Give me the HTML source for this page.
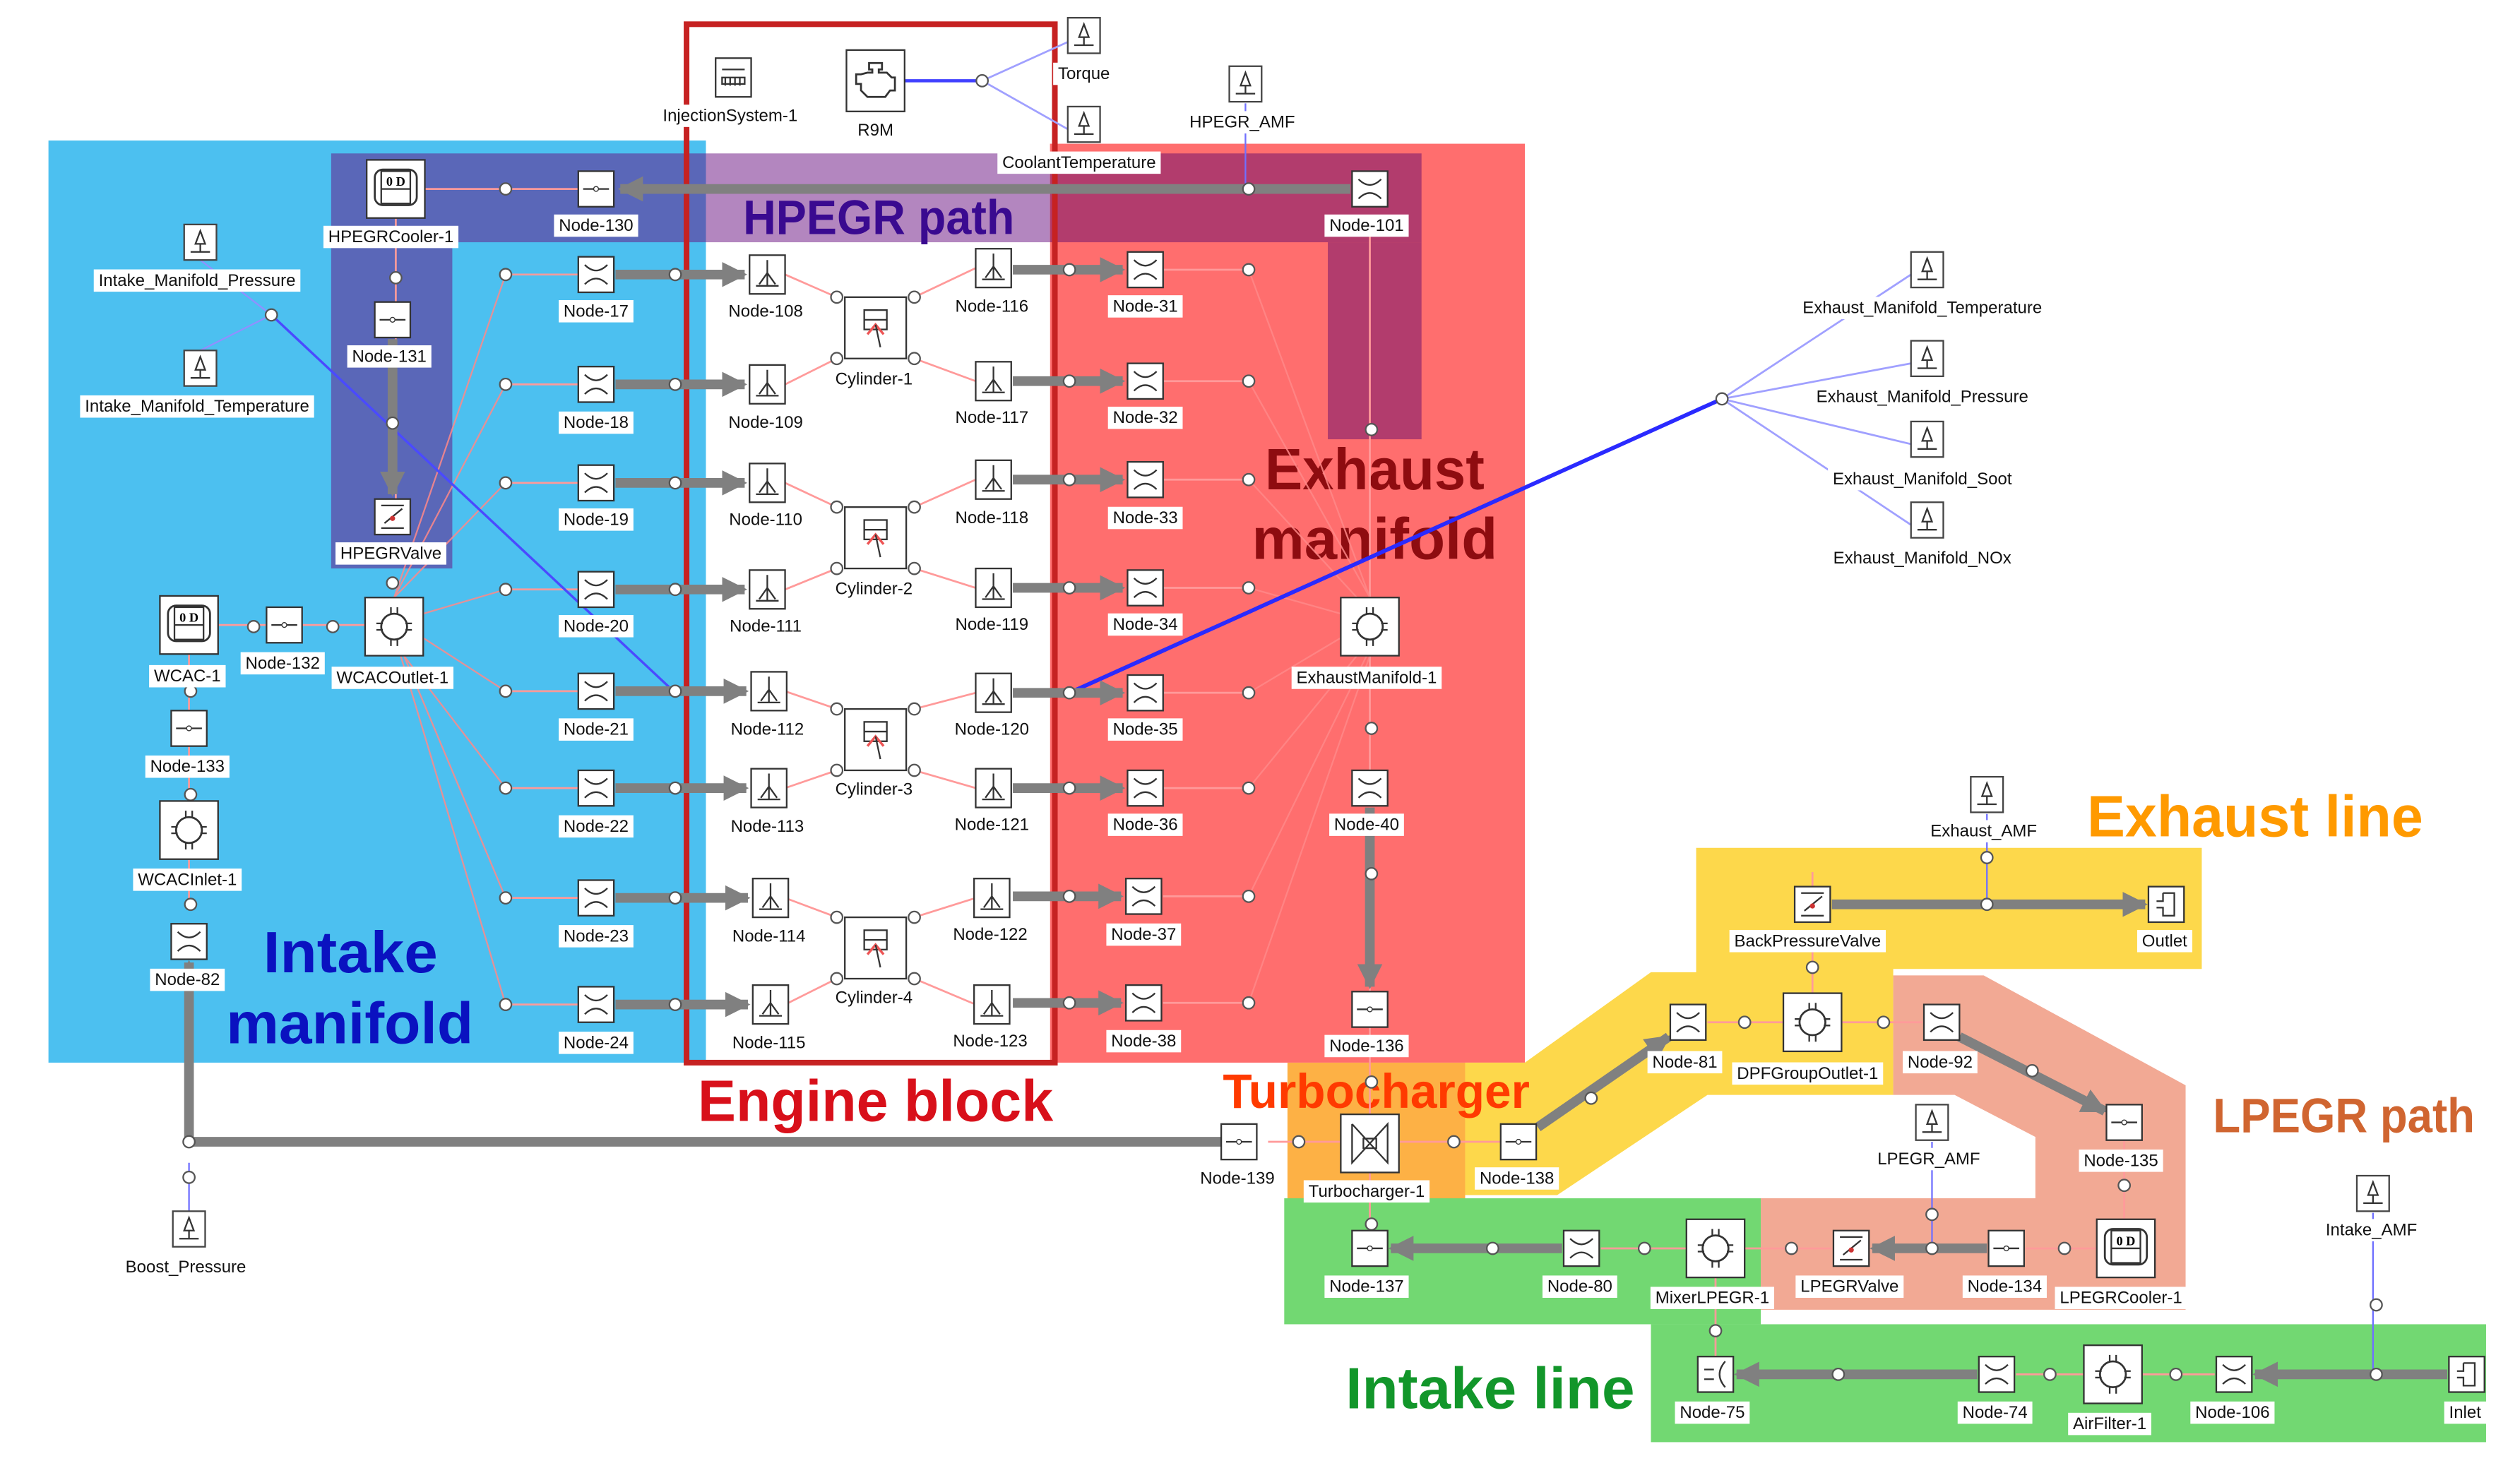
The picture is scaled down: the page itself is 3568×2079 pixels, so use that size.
<!DOCTYPE html>
<html><head><meta charset="utf-8"><style>
html,body{margin:0;padding:0;background:#fff;}
svg{display:block;}
.lb{font-family:"Liberation Sans",sans-serif;font-size:10.5px;fill:#111;text-anchor:middle;}
.big{font-family:"Liberation Sans",sans-serif;font-weight:bold;}
</style></head><body>
<svg xmlns="http://www.w3.org/2000/svg" xmlns:xlink="http://www.w3.org/1999/xlink" width="3568" height="2079" viewBox="0 0 1560 909" preserveAspectRatio="none">
<defs>
<marker id="ar" viewBox="0 0 10 10" markerWidth="2.6" markerHeight="3.2" refX="9" refY="5" orient="auto" markerUnits="strokeWidth"><path d="M0,0 L10,5 L0,10 z" fill="#808080"/></marker>
<g id="nr"><rect x="-11" y="-11" width="22" height="22" fill="#fff" stroke="#333" stroke-width="1"/><path d="M-7,-6 Q0,1 7,-6 M-7,6 Q0,-1 7,6" fill="none" stroke="#333"/></g>
<g id="nj"><rect x="-11" y="-11" width="22" height="22" fill="#fff" stroke="#333" stroke-width="1"/><path d="M-8,0 H8" stroke="#333"/><circle r="1.5" fill="#fff" stroke="#333" stroke-width=".6"/></g>
<g id="np"><rect x="-11" y="-12" width="22" height="24" fill="#fff" stroke="#333" stroke-width="1"/><path d="M0,-9 V7 M-7,7 H7 M-5,6 L0,-1 L5,6" fill="none" stroke="#333"/></g>
<g id="sn"><rect x="-10" y="-11" width="20" height="22" fill="#fff" stroke="#444" stroke-width="1"/><path d="M0,-7 L-3,1 H3 Z M0,1 V6 M-6,6 H6" fill="none" stroke="#333"/></g>
<g id="vl"><rect x="-11" y="-11" width="22" height="22" fill="#fff" stroke="#333" stroke-width="1"/><path d="M-7,-7 H7 M-7,7 H7 M-5,4 L6,-5" stroke="#333"/><circle cx="0" cy="1" r="1.6" fill="#c33"/></g>
<g id="bx"><rect x="-18" y="-18" width="36" height="36" fill="#fff" stroke="#333" stroke-width="1"/></g>
<g id="hub"><use xlink:href="#bx"/><circle r="8" fill="none" stroke="#333" stroke-width="1.2"/><path d="M-11,-2 H-7 M-11,2 H-7 M7,-2 H11 M7,2 H11 M-2,-12 V-8 M2,-12 V-8 M-2,8 V12 M2,8 V12" stroke="#333"/></g>
<g id="cool"><use xlink:href="#bx"/><rect x="-13" y="-12" width="26" height="22" rx="5" fill="none" stroke="#333" stroke-width="1.2"/><rect x="-9" y="-11" width="18" height="20" fill="none" stroke="#333"/><path d="M-9,0 H9" stroke="#333"/><text x="0" y="-2" font-size="8" font-weight="bold" text-anchor="middle" font-family="Liberation Serif,serif">0 D</text></g>
<g id="cyl"><rect x="-19" y="-19" width="38" height="38" fill="#fff" stroke="#333" stroke-width="1"/><rect x="-7" y="-11" width="14" height="12" fill="none" stroke="#333"/><path d="M-7,-5 H7" stroke="#333"/><path d="M-5,4 L0,-2 L5,4" fill="none" stroke="#e55" stroke-width="1.5"/><path d="M0,-2 L3,12" stroke="#333"/></g>
<g id="bnd"><rect x="-11" y="-11" width="22" height="22" fill="#fff" stroke="#333" stroke-width="1"/><path d="M-2,-7 H5 V7 H-2 V2 H-6 M-2,-7 V-2 H-6" fill="none" stroke="#333"/></g>
<g id="o"><circle r="3.6" fill="#fff" stroke="#555" stroke-width="1"/></g>
</defs>

<rect x="30" y="87" width="407" height="571" fill="#4cc0f0"/>
<rect x="650" y="89" width="294" height="569" fill="#ff6e6e"/>
<rect x="437" y="95" width="213" height="563" fill="#fff"/>
<rect x="205" y="95" width="232" height="55" fill="#5a67b8"/>
<rect x="205" y="150" width="75" height="202" fill="#5a67b8"/>
<rect x="437" y="95" width="213" height="55" fill="#b386bf"/>
<rect x="650" y="95" width="230" height="55" fill="#b23c6d"/>
<rect x="822" y="150" width="58" height="122" fill="#b23c6d"/>
<polygon points="1050,525 1363,525 1363,600 1172,600 1172,678 1057,678 964,740 907,740 907,658 944,658 1022,602 1050,602" fill="#fdd84b"/>
<polygon points="1172,604 1228,604 1353,672 1353,811 1090,811 1090,742 1260,742 1260,704 1210,678 1172,678" fill="#f2a994"/>
<rect x="797" y="658" width="110" height="99" fill="#fdb145"/>
<rect x="795" y="742" width="295" height="78" fill="#72d872"/>
<rect x="1022" y="820" width="517" height="73" fill="#72d872"/>
<rect x="425" y="15" width="228" height="643" fill="none" stroke="#c62222" stroke-width="3.5"/>

<text class="big" x="460" y="145" font-size="30" fill="#3a0a90" textLength="168" lengthAdjust="spacingAndGlyphs">HPEGR path</text>
<text class="big" x="783" y="303" font-size="36" fill="#8e0c10" textLength="136" lengthAdjust="spacingAndGlyphs">Exhaust</text>
<text class="big" x="775" y="346" font-size="36" fill="#8e0c10" textLength="152" lengthAdjust="spacingAndGlyphs">manifold</text>
<text class="big" x="163" y="602" font-size="36" fill="#0a12c0" textLength="108" lengthAdjust="spacingAndGlyphs">Intake</text>
<text class="big" x="140" y="646" font-size="36" fill="#0a12c0" textLength="153" lengthAdjust="spacingAndGlyphs">manifold</text>
<text class="big" x="432" y="694" font-size="36" fill="#d8101a" textLength="220" lengthAdjust="spacingAndGlyphs">Engine block</text>
<text class="big" x="757" y="686" font-size="30" fill="#ff3a00" textLength="190" lengthAdjust="spacingAndGlyphs">Turbocharger</text>
<text class="big" x="1292" y="518" font-size="36" fill="#ff9a00" textLength="208" lengthAdjust="spacingAndGlyphs">Exhaust line</text>
<text class="big" x="1370" y="701" font-size="30" fill="#d06530" textLength="162" lengthAdjust="spacingAndGlyphs">LPEGR path</text>
<text class="big" x="833" y="872" font-size="36" fill="#12962a" textLength="179" lengthAdjust="spacingAndGlyphs">Intake line</text>

<g stroke="#ff9a9a" stroke-width="1.2" fill="none">
<path d="M263,117 H358 M245,135 V312 M117,405 V560 M135,387 H226 M848,140 V480 M848,500 V690 M848,726 V762 M785,707 H830 M866,707 H929 M1057,633 H1104 M1140,633 H1190 M1122,578 V615 M1122,540 V552 M991,773 H1044 M1080,773 H1134 M1254,773 H1298 M1315,706 V755 M1062,791 V840 M1248,851 H1290 M1326,851 H1371"/>
<path d="M313,170 H358 M313,238 H358 M313,299 H358 M313,365 H358 M313,428 H358 M313,488 H358 M313,556 H358 M313,622 H358"/>
<path d="M720,167 H773 M720,236 H773 M720,297 H773 M720,364 H773 M720,429 H773 M720,488 H773 M720,555 H773 M720,621 H773"/>
<path d="M486,170 L518,184 M486,238 L518,222 M604,166 L566,184 M604,236 L566,222"/>
<path d="M486,299 L518,314 M486,365 L518,352 M604,297 L566,314 M604,364 L566,352"/>
<path d="M486,428 L518,439 M486,488 L518,477 M604,429 L566,439 M604,488 L566,477"/>
<path d="M486,556 L518,568 M486,622 L518,606 M604,556 L566,568 M604,622 L566,606"/>
</g>
<g stroke="#ff8888" stroke-width="1" fill="none" opacity=".85">
<path d="M244,370 L313,170 M244,370 L313,238 M244,370 L313,299 M262,380 L313,365 M262,395 L313,428 M250,406 L313,488 M250,406 L313,556 M248,406 L313,622"/>
<path d="M848,370 L773,167 M848,370 L773,236 M840,370 L773,297 M830,380 L773,364 M830,395 L773,429 M840,406 L773,488 M846,406 L773,555 M848,406 L773,621"/>
</g>

<g fill="none">
<path d="M124,161 L168,195 L124,217" stroke="#9090ff" stroke-width="1"/>
<path d="M168,195 L418,429" stroke="#4a4aff" stroke-width="1.5"/>
<path d="M662,429 L1066,247" stroke="#2a2aff" stroke-width="2.5"/>
<path d="M1066,247 L1183,170 M1066,247 L1183,225 M1066,247 L1183,275 M1066,247 L1183,325" stroke="#a0a0ff" stroke-width="1.2"/>
<path d="M560,50 H608" stroke="#4040ff" stroke-width="2"/>
<path d="M608,50 L661,26 M608,50 L661,80" stroke="#a0a0ff" stroke-width="1.2"/>
<path d="M771,64 V117 M1230,504 V560 M1196,707 V773 M1469,751 V851 M117,720 V750" stroke="#7070ff" stroke-width="1"/>
</g>

<g stroke="#808080" stroke-width="6" fill="none" marker-end="url(#ar)">
<path d="M836,117 H384"/>
<path d="M243,210 V306"/>
<path d="M381,170 H461"/><path d="M381,238 H461"/><path d="M381,299 H461"/><path d="M381,365 H461"/><path d="M381,428 H462"/><path d="M381,488 H462"/><path d="M381,556 H463"/><path d="M381,622 H463"/>
<path d="M627,167 H695"/><path d="M627,236 H695"/><path d="M627,297 H695"/><path d="M627,364 H695"/><path d="M627,429 H695"/><path d="M627,488 H695"/><path d="M627,555 H694"/><path d="M627,621 H694"/>
<path d="M848,500 V611"/>
<path d="M952,698 L1033,642"/>
<path d="M1213,642 L1303,688"/>
<path d="M1134,560 H1328"/>
<path d="M1230,773 H1159"/>
<path d="M967,773 H861"/>
<path d="M1515,851 H1396"/>
<path d="M1224,851 H1075"/>
<path d="M117,707 V596"/>
</g>
<path d="M117,707 H756" stroke="#808080" stroke-width="6" fill="none"/>

<g>
<use xlink:href="#o" x="313" y="117"/><use xlink:href="#o" x="773" y="117"/><use xlink:href="#o" x="245" y="172"/><use xlink:href="#o" x="243" y="262"/><use xlink:href="#o" x="243" y="361"/>
<use xlink:href="#o" x="168" y="195"/><use xlink:href="#o" x="157" y="388"/><use xlink:href="#o" x="206" y="388"/><use xlink:href="#o" x="118" y="428"/><use xlink:href="#o" x="118" y="492"/><use xlink:href="#o" x="118" y="560"/><use xlink:href="#o" x="117" y="707"/><use xlink:href="#o" x="117" y="729"/>
<use xlink:href="#o" x="313" y="170"/><use xlink:href="#o" x="313" y="238"/><use xlink:href="#o" x="313" y="299"/><use xlink:href="#o" x="313" y="365"/><use xlink:href="#o" x="313" y="428"/><use xlink:href="#o" x="313" y="488"/><use xlink:href="#o" x="313" y="556"/><use xlink:href="#o" x="313" y="622"/>
<use xlink:href="#o" x="418" y="170"/><use xlink:href="#o" x="418" y="238"/><use xlink:href="#o" x="418" y="299"/><use xlink:href="#o" x="418" y="365"/><use xlink:href="#o" x="418" y="428"/><use xlink:href="#o" x="418" y="488"/><use xlink:href="#o" x="418" y="556"/><use xlink:href="#o" x="418" y="622"/>
<use xlink:href="#o" x="662" y="167"/><use xlink:href="#o" x="662" y="236"/><use xlink:href="#o" x="662" y="297"/><use xlink:href="#o" x="662" y="364"/><use xlink:href="#o" x="662" y="429"/><use xlink:href="#o" x="662" y="488"/><use xlink:href="#o" x="662" y="555"/><use xlink:href="#o" x="662" y="621"/>
<use xlink:href="#o" x="773" y="167"/><use xlink:href="#o" x="773" y="236"/><use xlink:href="#o" x="773" y="297"/><use xlink:href="#o" x="773" y="364"/><use xlink:href="#o" x="773" y="429"/><use xlink:href="#o" x="773" y="488"/><use xlink:href="#o" x="773" y="555"/><use xlink:href="#o" x="773" y="621"/>
<use xlink:href="#o" x="518" y="184"/><use xlink:href="#o" x="566" y="184"/><use xlink:href="#o" x="518" y="222"/><use xlink:href="#o" x="566" y="222"/>
<use xlink:href="#o" x="518" y="314"/><use xlink:href="#o" x="566" y="314"/><use xlink:href="#o" x="518" y="352"/><use xlink:href="#o" x="566" y="352"/>
<use xlink:href="#o" x="518" y="439"/><use xlink:href="#o" x="566" y="439"/><use xlink:href="#o" x="518" y="477"/><use xlink:href="#o" x="566" y="477"/>
<use xlink:href="#o" x="518" y="568"/><use xlink:href="#o" x="566" y="568"/><use xlink:href="#o" x="518" y="606"/><use xlink:href="#o" x="566" y="606"/>
<use xlink:href="#o" x="849" y="266"/><use xlink:href="#o" x="849" y="451"/><use xlink:href="#o" x="849" y="541"/><use xlink:href="#o" x="849" y="670"/><use xlink:href="#o" x="849" y="758"/>
<use xlink:href="#o" x="804" y="707"/><use xlink:href="#o" x="900" y="707"/><use xlink:href="#o" x="985" y="680"/><use xlink:href="#o" x="1080" y="633"/><use xlink:href="#o" x="1166" y="633"/><use xlink:href="#o" x="1122" y="599"/><use xlink:href="#o" x="1230" y="560"/><use xlink:href="#o" x="1230" y="531"/>
<use xlink:href="#o" x="1258" y="663"/><use xlink:href="#o" x="1315" y="734"/><use xlink:href="#o" x="1278" y="773"/><use xlink:href="#o" x="1196" y="773"/><use xlink:href="#o" x="1196" y="752"/><use xlink:href="#o" x="1109" y="773"/><use xlink:href="#o" x="1018" y="773"/><use xlink:href="#o" x="924" y="773"/>
<use xlink:href="#o" x="1062" y="824"/><use xlink:href="#o" x="1138" y="851"/><use xlink:href="#o" x="1269" y="851"/><use xlink:href="#o" x="1347" y="851"/><use xlink:href="#o" x="1471" y="851"/><use xlink:href="#o" x="1471" y="808"/>
<use xlink:href="#o" x="608" y="50"/><use xlink:href="#o" x="1066" y="247"/>
</g>

<use xlink:href="#cool" x="245" y="117"/>
<use xlink:href="#nj" x="369" y="117"/>
<use xlink:href="#sn" x="124" y="150"/><use xlink:href="#sn" x="124" y="228"/>
<use xlink:href="#nj" x="243" y="198"/>
<use xlink:href="#vl" x="243" y="320"/>
<use xlink:href="#cool" x="117" y="387"/>
<use xlink:href="#nj" x="176" y="387"/>
<use xlink:href="#hub" x="244" y="388"/>
<use xlink:href="#nj" x="117" y="451"/>
<use xlink:href="#hub" x="117" y="514"/>
<use xlink:href="#nr" x="117" y="583"/>
<use xlink:href="#sn" x="117" y="761"/>
<use xlink:href="#nr" x="369" y="170"/><use xlink:href="#nr" x="369" y="238"/><use xlink:href="#nr" x="369" y="299"/><use xlink:href="#nr" x="369" y="365"/><use xlink:href="#nr" x="369" y="428"/><use xlink:href="#nr" x="369" y="488"/><use xlink:href="#nr" x="369" y="556"/><use xlink:href="#nr" x="369" y="622"/>
<use xlink:href="#np" x="475" y="170"/><use xlink:href="#np" x="475" y="238"/><use xlink:href="#np" x="475" y="299"/><use xlink:href="#np" x="475" y="365"/><use xlink:href="#np" x="476" y="428"/><use xlink:href="#np" x="476" y="488"/><use xlink:href="#np" x="477" y="556"/><use xlink:href="#np" x="477" y="622"/>
<use xlink:href="#np" x="615" y="166"/><use xlink:href="#np" x="615" y="236"/><use xlink:href="#np" x="615" y="297"/><use xlink:href="#np" x="615" y="364"/><use xlink:href="#np" x="615" y="429"/><use xlink:href="#np" x="615" y="488"/><use xlink:href="#np" x="614" y="556"/><use xlink:href="#np" x="614" y="622"/>
<use xlink:href="#cyl" x="542" y="203"/><use xlink:href="#cyl" x="542" y="333"/><use xlink:href="#cyl" x="542" y="458"/><use xlink:href="#cyl" x="542" y="587"/>
<use xlink:href="#nr" x="709" y="167"/><use xlink:href="#nr" x="709" y="236"/><use xlink:href="#nr" x="709" y="297"/><use xlink:href="#nr" x="709" y="364"/><use xlink:href="#nr" x="709" y="429"/><use xlink:href="#nr" x="709" y="488"/><use xlink:href="#nr" x="708" y="555"/><use xlink:href="#nr" x="708" y="621"/>
<use xlink:href="#nr" x="848" y="117"/>
<use xlink:href="#hub" x="848" y="388"/>
<use xlink:href="#nr" x="848" y="488"/>
<use xlink:href="#nj" x="848" y="625"/>
<g transform="translate(848,708)"><use xlink:href="#bx"/><path d="M-11,-12 V12 L11,-12 V12 L-11,-12 M-4,-3 H4 V3 H-4 Z" fill="none" stroke="#333"/></g>
<use xlink:href="#nj" x="767" y="707"/>
<use xlink:href="#nj" x="940" y="707"/>
<use xlink:href="#nj" x="848" y="773"/>
<use xlink:href="#nr" x="979" y="773"/>
<use xlink:href="#hub" x="1062" y="773"/>
<use xlink:href="#vl" x="1146" y="773"/>
<use xlink:href="#nj" x="1242" y="773"/>
<use xlink:href="#cool" x="1316" y="773"/>
<use xlink:href="#sn" x="1196" y="695"/>
<use xlink:href="#nj" x="1315" y="695"/>
<use xlink:href="#nr" x="1202" y="633"/>
<use xlink:href="#hub" x="1122" y="633"/>
<use xlink:href="#nr" x="1045" y="633"/>
<use xlink:href="#vl" x="1122" y="560"/>
<use xlink:href="#bnd" x="1341" y="560"/>
<use xlink:href="#sn" x="1230" y="492"/>
<g transform="translate(1062,851)"><rect x="-11" y="-11" width="22" height="22" fill="#fff" stroke="#333"/><path d="M-7,-3 H-1 M-7,3 H-1 M6,-8 Q-1,0 6,8" fill="none" stroke="#333"/></g>
<use xlink:href="#nr" x="1236" y="851"/>
<use xlink:href="#hub" x="1308" y="851"/>
<use xlink:href="#nr" x="1383" y="851"/>
<use xlink:href="#bnd" x="1527" y="851"/>
<use xlink:href="#sn" x="1469" y="739"/>
<g transform="translate(454,48)"><rect x="-11" y="-12" width="22" height="24" fill="#fff" stroke="#333"/><path d="M-7,-5 H7 M-7,0 H7 V4 H-7 Z M-5,0 V5 M-2,0 V5 M1,0 V5 M4,0 V5" fill="none" stroke="#333"/></g>
<g transform="translate(542,50)"><rect x="-18" y="-19" width="36" height="38" fill="#fff" stroke="#333"/><path d="M-4,-11 H4 V-7 H2 V-5 H7 L10,-2 H12 V6 H9 L6,10 H-5 L-9,6 V2 H-12 V-4 H-9 L-5,-5 H-2 V-7 H-4 Z" fill="none" stroke="#333" stroke-width="1.2"/></g>
<use xlink:href="#sn" x="671" y="22"/><use xlink:href="#sn" x="671" y="77"/><use xlink:href="#sn" x="771" y="52"/>
<use xlink:href="#sn" x="1193" y="167"/><use xlink:href="#sn" x="1193" y="222"/><use xlink:href="#sn" x="1193" y="272"/><use xlink:href="#sn" x="1193" y="322"/>

<g id="labels">
<text class="lb" x="369" y="143">Node-130</text>
<text class="lb" x="242" y="150">HPEGRCooler-1</text>
<text class="lb" x="122" y="177">Intake_Manifold_Pressure</text>
<text class="lb" x="122" y="255">Intake_Manifold_Temperature</text>
<text class="lb" x="241" y="224">Node-131</text>
<text class="lb" x="242" y="346">HPEGRValve</text>
<text class="lb" x="116" y="422">WCAC-1</text>
<text class="lb" x="175" y="414">Node-132</text>
<text class="lb" x="243" y="423">WCACOutlet-1</text>
<text class="lb" x="116" y="478">Node-133</text>
<text class="lb" x="116" y="548">WCACInlet-1</text>
<text class="lb" x="116" y="610">Node-82</text>
<text class="lb" x="115" y="788">Boost_Pressure</text>
<text class="lb" x="369" y="196">Node-17</text><text class="lb" x="369" y="265">Node-18</text><text class="lb" x="369" y="325">Node-19</text><text class="lb" x="369" y="391">Node-20</text><text class="lb" x="369" y="455">Node-21</text><text class="lb" x="369" y="515">Node-22</text><text class="lb" x="369" y="583">Node-23</text><text class="lb" x="369" y="649">Node-24</text>
<text class="lb" x="474" y="196">Node-108</text><text class="lb" x="474" y="265">Node-109</text><text class="lb" x="474" y="325">Node-110</text><text class="lb" x="474" y="391">Node-111</text><text class="lb" x="475" y="455">Node-112</text><text class="lb" x="475" y="515">Node-113</text><text class="lb" x="476" y="583">Node-114</text><text class="lb" x="476" y="649">Node-115</text>
<text class="lb" x="541" y="238">Cylinder-1</text><text class="lb" x="541" y="368">Cylinder-2</text><text class="lb" x="541" y="492">Cylinder-3</text><text class="lb" x="541" y="621">Cylinder-4</text>
<text class="lb" x="614" y="193">Node-116</text><text class="lb" x="614" y="262">Node-117</text><text class="lb" x="614" y="324">Node-118</text><text class="lb" x="614" y="390">Node-119</text><text class="lb" x="614" y="455">Node-120</text><text class="lb" x="614" y="514">Node-121</text><text class="lb" x="613" y="582">Node-122</text><text class="lb" x="613" y="648">Node-123</text>
<text class="lb" x="709" y="193">Node-31</text><text class="lb" x="709" y="262">Node-32</text><text class="lb" x="709" y="324">Node-33</text><text class="lb" x="709" y="390">Node-34</text><text class="lb" x="709" y="455">Node-35</text><text class="lb" x="709" y="514">Node-36</text><text class="lb" x="708" y="582">Node-37</text><text class="lb" x="708" y="648">Node-38</text>
<text class="lb" x="846" y="143">Node-101</text>
<text class="lb" x="846" y="423">ExhaustManifold-1</text>
<text class="lb" x="846" y="514">Node-40</text>
<text class="lb" x="846" y="651">Node-136</text>
<text class="lb" x="846" y="741">Turbocharger-1</text>
<text class="lb" x="766" y="733">Node-139</text>
<text class="lb" x="939" y="733">Node-138</text>
<text class="lb" x="846" y="800">Node-137</text>
<text class="lb" x="978" y="800">Node-80</text>
<text class="lb" x="1060" y="807">MixerLPEGR-1</text>
<text class="lb" x="1145" y="800">LPEGRValve</text>
<text class="lb" x="1241" y="800">Node-134</text>
<text class="lb" x="1313" y="807">LPEGRCooler-1</text>
<text class="lb" x="1194" y="721">LPEGR_AMF</text>
<text class="lb" x="1313" y="722">Node-135</text>
<text class="lb" x="1201" y="661">Node-92</text>
<text class="lb" x="1119" y="668">DPFGroupOutlet-1</text>
<text class="lb" x="1043" y="661">Node-81</text>
<text class="lb" x="1119" y="586">BackPressureValve</text>
<text class="lb" x="1340" y="586">Outlet</text>
<text class="lb" x="1228" y="518">Exhaust_AMF</text>
<text class="lb" x="1060" y="878">Node-75</text>
<text class="lb" x="1235" y="878">Node-74</text>
<text class="lb" x="1306" y="885">AirFilter-1</text>
<text class="lb" x="1382" y="878">Node-106</text>
<text class="lb" x="1526" y="878">Inlet</text>
<text class="lb" x="1468" y="765">Intake_AMF</text>
<text class="lb" x="452" y="75">InjectionSystem-1</text>
<text class="lb" x="542" y="84">R9M</text>
<text class="lb" x="671" y="49">Torque</text>
<text class="lb" x="668" y="104">CoolantTemperature</text>
<text class="lb" x="769" y="79">HPEGR_AMF</text>
<text class="lb" x="1190" y="194">Exhaust_Manifold_Temperature</text>
<text class="lb" x="1190" y="249">Exhaust_Manifold_Pressure</text>
<text class="lb" x="1190" y="300">Exhaust_Manifold_Soot</text>
<text class="lb" x="1190" y="349">Exhaust_Manifold_NOx</text>
</g>
</svg>
<script>
(function(){
var ns="http://www.w3.org/2000/svg";
var g=document.getElementById("labels");
var ts=g.querySelectorAll("text");
for(var i=0;i<ts.length;i++){
  var t=ts[i],b=t.getBBox();
  var r=document.createElementNS(ns,"rect");
  r.setAttribute("x",b.x-3);r.setAttribute("y",b.y-1);
  r.setAttribute("width",b.width+6);r.setAttribute("height",b.height+2);
  r.setAttribute("fill","#fff");
  g.insertBefore(r,t);
}
})();
</script>
</body></html>
